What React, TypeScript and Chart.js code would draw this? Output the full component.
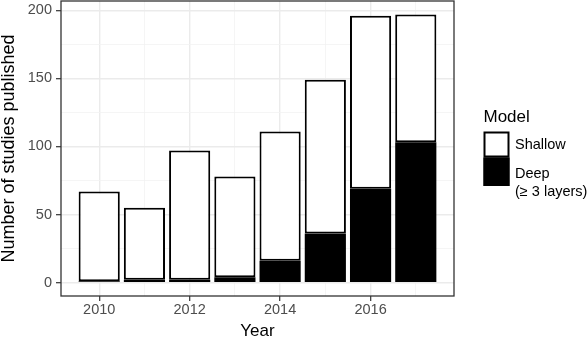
import React, { useEffect, useRef } from "react";
import { Chart, registerables } from "chart.js";

Chart.register(...registerables);

// ---- data ----
const years = [2010, 2011, 2012, 2013, 2014, 2015, 2016, 2017];
const deepCounts = [1, 2, 2, 4, 16, 36, 69, 103];
const shallowCounts = [66, 53, 95, 74, 95, 113, 127, 94];
const xTickLabels = [2010, 2012, 2014, 2016];
const yGridValues = [0, 25, 50, 75, 100, 125, 150, 175, 200];
const yTickLabels = [0, 50, 100, 150, 200];
const legendTitle = "Model";
const legendEntries = [
  { lines: ["Shallow"], fill: "#FFFFFF" },
  { lines: ["Deep", "(\u2265 3 layers)"], fill: "#000000" },
];

const FONT = "'Liberation Sans', Arial, Helvetica, sans-serif";

const panelLegendPlugin = {
  id: "panelLegend",
  afterDraw(chart: any) {
    const { ctx, chartArea } = chart;
    ctx.save();
    // panel border
    ctx.strokeStyle = "#333333";
    ctx.lineWidth = 1.3;
    ctx.strokeRect(chartArea.left, chartArea.top, chartArea.right - chartArea.left, chartArea.bottom - chartArea.top);

    // legend
    const lx = chartArea.right + 29.5;
    ctx.fillStyle = "#000000";
    ctx.font = `17px ${FONT}`;
    ctx.textBaseline = "middle";
    ctx.textAlign = "left";
    ctx.fillText(legendTitle, lx, 117.5);

    const boxW = 26;
    const heights = [26, 28.5];
    let y = 131.5;
    legendEntries.forEach((entry, i) => {
      const h = heights[i];
      ctx.fillStyle = entry.fill;
      ctx.fillRect(lx, y, boxW, h);
      ctx.strokeStyle = "#000000";
      ctx.lineWidth = 2;
      ctx.strokeRect(lx + 1, y + 1, boxW - 2, h - 2);
      ctx.fillStyle = "#000000";
      ctx.font = `14.5px ${FONT}`;
      const n = entry.lines.length;
      entry.lines.forEach((line, j) => {
        const cy = n === 1 ? y + h / 2 : y + 16.8 + j * 18;
        ctx.fillText(line, lx + boxW + 5.5, cy);
      });
      y += h;
    });
    ctx.restore();
  },
};

export default function App() {
  const canvasRef = useRef<HTMLCanvasElement | null>(null);

  useEffect(() => {
    const canvas = canvasRef.current;
    if (!canvas) return;
    const majorX = (v: number) => xTickLabels.includes(v);
    const majorY = (v: number) => yTickLabels.includes(v);

    const chart = new Chart(canvas, {
      type: "bar",
      data: {
        datasets: [
          {
            label: "Deep",
            data: years.map((yr, i) => ({ x: yr, y: deepCounts[i] })),
            backgroundColor: "#000000",
            borderColor: "#000000",
            borderWidth: 0,
            borderSkipped: false,
            stack: "s",
          },
          {
            label: "Shallow",
            data: years.map((yr, i) => ({ x: yr, y: shallowCounts[i] })),
            backgroundColor: "#FFFFFF",
            borderColor: "#000000",
            borderWidth: 2,
            borderSkipped: false,
            stack: "s",
          },
        ],
      },
      options: {
        responsive: false,
        devicePixelRatio: 1,
        animation: false,
        layout: { padding: { top: 1, right: 134, left: 0, bottom: 0 } },
        datasets: {
          bar: { barPercentage: 0.91, categoryPercentage: 1 },
        },
        plugins: {
          legend: { display: false },
          tooltip: { enabled: false },
        },
        scales: {
          x: {
            type: "linear",
            offset: false,
            min: 2009.155,
            max: 2017.845,
            afterBuildTicks: (scale: any) => {
              scale.ticks = years.map((v) => ({ value: v }));
            },
            afterFit: (scale: any) => {
              scale.height = 42;
              scale.paddingLeft = 0;
              scale.paddingRight = 0;
            },
            ticks: {
              autoSkip: false,
              maxRotation: 0,
              padding: 0,
              color: "#4D4D4D",
              font: { family: FONT, size: 14.5 },
              callback: (v: any) => (majorX(Number(v)) ? String(v) : ""),
            },
            grid: {
              offset: false,
              color: (c: any) => (c.tick && majorX(c.tick.value) ? "#EBEBEB" : "#F2F2F2"),
              lineWidth: (c: any) => (c.tick && majorX(c.tick.value) ? 1.4 : 0.8),
              tickColor: (c: any) => (c.tick && majorX(c.tick.value) ? "#333333" : "rgba(0,0,0,0)"),
              tickWidth: 1.2,
              tickLength: 5,
            },
            border: { display: false },
            title: {
              display: true,
              text: "Year",
              color: "#000000",
              font: { family: FONT, size: 17, lineHeight: 0.82 },
              padding: { top: 0, bottom: 0 },
            },
          },
          y: {
            type: "linear",
            stacked: true,
            min: -9.85,
            max: 206.85,
            afterBuildTicks: (scale: any) => {
              scale.ticks = yGridValues.map((v) => ({ value: v }));
            },
            afterFit: (scale: any) => {
              scale.width = 61;
              scale.paddingTop = 0;
              scale.paddingBottom = 0;
            },
            ticks: {
              autoSkip: false,
              padding: 4,
              color: "#4D4D4D",
              font: { family: FONT, size: 14.5 },
              callback: (v: any) => (majorY(Number(v)) ? String(v) : ""),
            },
            grid: {
              color: (c: any) => (c.tick && majorY(c.tick.value) ? "#EBEBEB" : "#F2F2F2"),
              lineWidth: (c: any) => (c.tick && majorY(c.tick.value) ? 1.4 : 0.8),
              tickColor: (c: any) => (c.tick && majorY(c.tick.value) ? "#333333" : "rgba(0,0,0,0)"),
              tickWidth: 1.2,
              tickLength: 5,
            },
            border: { display: false },
            title: {
              display: true,
              text: "Number of studies published",
              color: "#000000",
              font: { family: FONT, size: 18, lineHeight: 1 },
              padding: { top: 0.5, bottom: 0 },
            },
          },
        },
      },
      plugins: [panelLegendPlugin],
    } as any);

    return () => chart.destroy();
  }, []);

  return (
    <div style={{ position: "fixed", left: 0, top: 0, width: 588, height: 338, background: "#FFFFFF" }}>
      <canvas ref={canvasRef} width={588} height={338} style={{ display: "block" }} />
    </div>
  );
}
